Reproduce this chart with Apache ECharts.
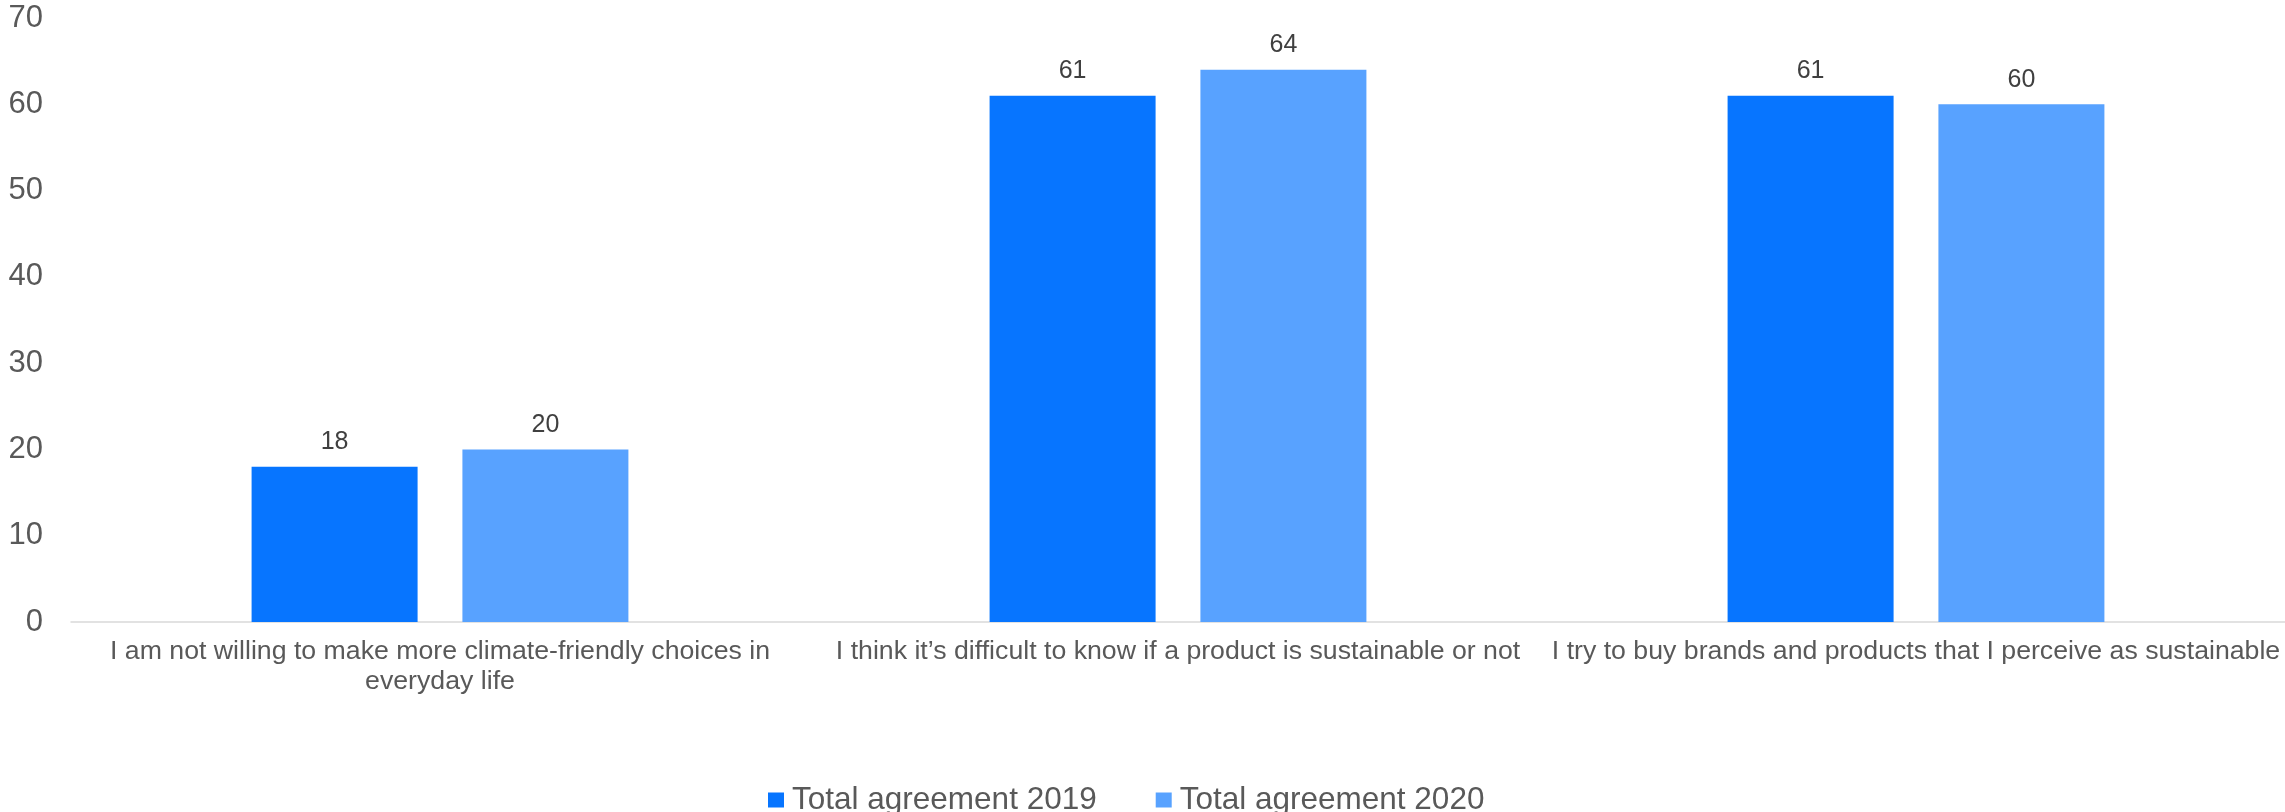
<!DOCTYPE html>
<html>
<head>
<meta charset="utf-8">
<script src="https://cdn.jsdelivr.net/npm/echarts@6/dist/echarts.min.js"></script>
<style>
  html, body { margin: 0; padding: 0; background: #ffffff; }
  #chart { width: 2285px; height: 812px; }
</style>
</head>
<body>
<div id="chart"></div>
<script>
// Survey statements (x categories)
const categories = [
  'I am not willing to make more climate-friendly choices in\neveryday life',
  'I think it\u2019s difficult to know if a product is sustainable or not',
  'I try to buy brands and products that I perceive as sustainable'
];
// Share of respondents agreeing, per year
const agreement2019 = [18, 61, 61];
const agreement2020 = [20, 64, 60];
const seriesNames = ['Total agreement 2019', 'Total agreement 2020'];
const yTicks = { min: 0, max: 70, interval: 10 };

const FONT = "'Liberation Sans', Arial, sans-serif";

const chart = echarts.init(document.getElementById('chart'), null, { renderer: 'canvas' });

const barLabel = {
  show: true,
  position: 'top',
  distance: 12,
  color: '#404040',
  fontFamily: FONT,
  fontSize: 25
};

chart.setOption({
  animation: false,
  backgroundColor: '#ffffff',
  grid: {
    left: 71, right: 0, top: 18, bottom: 190,
    containLabel: false,
    outerBoundsMode: 'none'
  },
  legend: {
    data: seriesNames,
    left: 763,
    top: 779,
    icon: 'rect',
    itemWidth: 16,
    itemHeight: 15,
    itemGap: 59,
    textStyle: { color: '#595959', fontFamily: FONT, fontSize: 31.5, padding: [0, 0, 0, 3] }
  },
  xAxis: {
    type: 'category',
    data: categories,
    axisLine: { show: true, lineStyle: { color: '#d9d9d9', width: 1.5 } },
    axisTick: { show: false },
    axisLabel: {
      interval: 0,
      margin: 15,
      hideOverlap: false,
      color: '#595959',
      fontFamily: FONT,
      fontSize: 26.7,
      lineHeight: 30,
      align: 'center'
    }
  },
  yAxis: {
    type: 'value',
    min: yTicks.min,
    max: yTicks.max,
    interval: yTicks.interval,
    axisLine: { show: false },
    axisTick: { show: false },
    splitLine: { show: false },
    axisLabel: { margin: 28, color: '#595959', fontFamily: FONT, fontSize: 31 }
  },
  series: [
    {
      name: seriesNames[0],
      type: 'bar',
      data: agreement2019,
      barWidth: 166,
      barGap: '27%',
      itemStyle: { color: '#0775FF' },
      label: barLabel
    },
    {
      name: seriesNames[1],
      type: 'bar',
      data: agreement2020,
      barWidth: 166,
      barGap: '27%',
      itemStyle: { color: '#58A2FF' },
      label: barLabel
    }
  ]
});
</script>
</body>
</html>
